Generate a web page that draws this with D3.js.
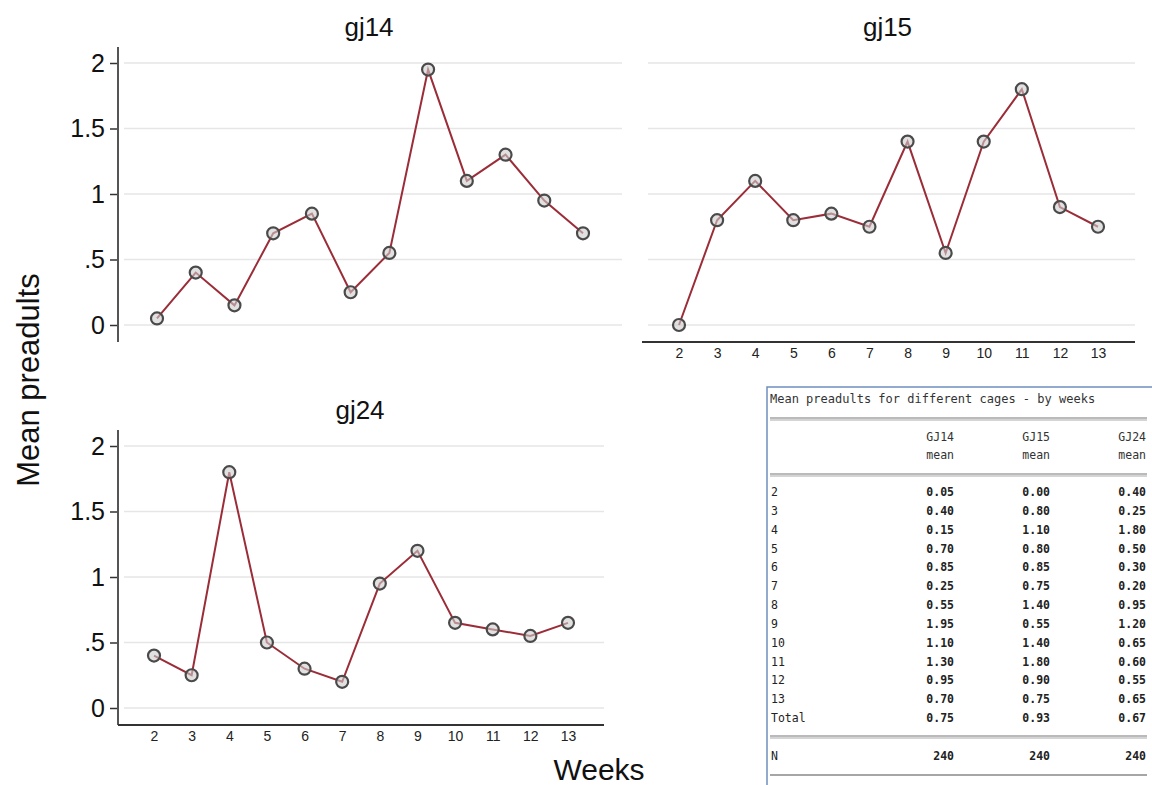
<!DOCTYPE html>
<html>
<head>
<meta charset="utf-8">
<script src="https://cdn.jsdelivr.net/npm/d3@7"></script>
<style>
  body { margin: 0; background: #fff; }
  svg { display: block; }
</style>
</head>
<body>
<svg id="chart" width="1152" height="785"></svg>
<script>
// data
var weeks = [2, 3, 4, 5, 6, 7, 8, 9, 10, 11, 12, 13];
var gj14 = [0.05, 0.40, 0.15, 0.70, 0.85, 0.25, 0.55, 1.95, 1.10, 1.30, 0.95, 0.70];
var gj15 = [0.00, 0.80, 1.10, 0.80, 0.85, 0.75, 1.40, 0.55, 1.40, 1.80, 0.90, 0.75];
var gj24 = [0.40, 0.25, 1.80, 0.50, 0.30, 0.20, 0.95, 1.20, 0.65, 0.60, 0.55, 0.65];
var yTicks = [0, 0.5, 1, 1.5, 2];
var yTickLabels = ["0", ".5", "1", "1.5", "2"];
var totals = [0.75, 0.93, 0.67];
var nObs = [240, 240, 240];
var tableCols = ["GJ14", "GJ15", "GJ24"];

var svg = d3.select("#chart");
var lineColor = "#9b2d38";
var sans = "Liberation Sans, Arial, sans-serif";

// one panel per cage
var panels = [
  { name: "gj14", values: gj14, x0: 118, x1: 622, y0: 325, y1: 63, wk2: 157, wk13: 583, yAxis: true, xAxis: false, axTop: 47, axBottom: 342 },
  { name: "gj15", values: gj15, x0: 642, x1: 1135, y0: 325, y1: 63, wk2: 679, wk13: 1098, yAxis: false, xAxis: true, axBottom: 342 },
  { name: "gj24", values: gj24, x0: 118, x1: 604, y0: 708, y1: 446, wk2: 154, wk13: 568, yAxis: true, xAxis: true, axTop: 430, axBottom: 725 }
];

panels.forEach(function (p) {
  var x = d3.scaleLinear().domain([2, 13]).range([p.wk2, p.wk13]);
  var y = d3.scaleLinear().domain([0, 2]).range([p.y0, p.y1]);
  var g = svg.append("g");

  // grid
  g.selectAll("line.grid")
    .data(yTicks).enter()
    .append("line")
    .attr("x1", p.x0 + 6)
    .attr("x2", p.x1)
    .attr("y1", function (d) { return y(d); })
    .attr("y2", function (d) { return y(d); })
    .attr("stroke", "#e6e6e6")
    .attr("stroke-width", 1.5);

  if (p.yAxis) {
    var ya = d3.axisLeft(y).tickValues(yTicks)
      .tickFormat(function (d, i) { return yTickLabels[i]; })
      .tickSize(8).tickPadding(5);
    var yg = g.append("g").attr("transform", "translate(" + p.x0 + ",0)").call(ya);
    yg.select(".domain").remove();
    yg.selectAll(".tick line").attr("stroke", "#333").attr("stroke-width", 1.5);
    yg.selectAll(".tick text").attr("font-family", sans)
      .attr("font-size", 25).attr("fill", "#111");
    g.append("line")
      .attr("x1", p.x0).attr("x2", p.x0)
      .attr("y1", p.axTop).attr("y2", p.axBottom)
      .attr("stroke", "#555").attr("stroke-width", 2);
  }

  if (p.xAxis) {
    var xa = d3.axisBottom(x).tickValues(weeks).tickFormat(d3.format("d"))
      .tickSize(0).tickPadding(6);
    var xg = g.append("g").attr("transform", "translate(0," + p.axBottom + ")").call(xa);
    xg.select(".domain").remove();
    xg.selectAll(".tick text").attr("font-family", sans)
      .attr("font-size", 14).attr("fill", "#222");
    g.append("line")
      .attr("x1", p.x0).attr("x2", p.x1)
      .attr("y1", p.axBottom).attr("y2", p.axBottom)
      .attr("stroke", "#333").attr("stroke-width", 2);
  }

  // title
  g.append("text")
    .attr("x", (p.wk2 + p.wk13) / 2 - 1)
    .attr("y", p.y1 - 27)
    .attr("text-anchor", "middle")
    .attr("font-family", sans)
    .attr("font-size", 26)
    .attr("fill", "#111")
    .text(p.name);

  var pts = weeks.map(function (w, i) { return [w, p.values[i]]; });

  g.append("path")
    .datum(pts)
    .attr("fill", "none")
    .attr("stroke", lineColor)
    .attr("stroke-width", 2)
    .attr("d", d3.line().x(function (d) { return x(d[0]); }).y(function (d) { return y(d[1]); }));

  g.selectAll("circle")
    .data(pts).enter()
    .append("circle")
    .attr("cx", function (d) { return x(d[0]); })
    .attr("cy", function (d) { return y(d[1]); })
    .attr("r", 6)
    .attr("fill", "rgba(205,205,205,0.6)")
    .attr("stroke", "#4a4a4a")
    .attr("stroke-width", 2.2);
});

// shared axis titles
svg.append("text")
  .attr("transform", "translate(39,380) rotate(-90)")
  .attr("text-anchor", "middle")
  .attr("font-family", sans)
  .attr("font-size", 31)
  .attr("fill", "#111")
  .text("Mean preadults");

svg.append("text")
  .attr("x", 599)
  .attr("y", 780)
  .attr("text-anchor", "middle")
  .attr("font-family", sans)
  .attr("font-size", 30)
  .attr("fill", "#111")
  .text("Weeks");

// the summary table
var tb = svg.append("g");
var mono = "DejaVu Sans Mono, Liberation Mono, monospace";
tb.append("rect").attr("x", 767).attr("y", 387).attr("width", 400).attr("height", 410)
  .attr("fill", "#fff").attr("stroke", "#6f8fbf").attr("stroke-width", 1.5);

tb.append("text").attr("x", 770).attr("y", 403)
  .attr("font-family", mono).attr("font-size", 12).attr("fill", "#333")
  .text("Mean preadults for different cages - by weeks");

function rule(yy) {
  tb.append("line").attr("x1", 770).attr("x2", 1147).attr("y1", yy).attr("y2", yy)
    .attr("stroke", "#777").attr("stroke-width", 1.2);
  tb.append("line").attr("x1", 770).attr("x2", 1147).attr("y1", yy + 2).attr("y2", yy + 2)
    .attr("stroke", "#aaa").attr("stroke-width", 1.2);
}
rule(418);
rule(474);
rule(736);
tb.append("line").attr("x1", 770).attr("x2", 1147).attr("y1", 775).attr("y2", 775)
  .attr("stroke", "#888").attr("stroke-width", 1.5);

var colRight = [954, 1050, 1146];
tableCols.forEach(function (c, j) {
  tb.append("text").attr("x", colRight[j]).attr("y", 441).attr("text-anchor", "end")
    .attr("font-family", mono).attr("font-size", 11.5).attr("fill", "#333").text(c);
  tb.append("text").attr("x", colRight[j]).attr("y", 459).attr("text-anchor", "end")
    .attr("font-family", mono).attr("font-size", 11.5).attr("fill", "#333").text("mean");
});

var rows = weeks.map(function (w, i) { return [String(w), gj14[i], gj15[i], gj24[i]]; });
rows.push(["Total"].concat(totals));
var rowY = d3.scaleLinear().domain([0, rows.length - 1]).range([496, 722]);
var fmt = d3.format(".2f");

rows.forEach(function (r, i) {
  tb.append("text").attr("x", 771).attr("y", rowY(i))
    .attr("font-family", mono).attr("font-size", 11.5).attr("fill", "#222").text(r[0]);
  for (var j = 1; j < 4; j++) {
    tb.append("text").attr("x", colRight[j - 1]).attr("y", rowY(i)).attr("text-anchor", "end")
      .attr("font-family", mono).attr("font-size", 11.5).attr("font-weight", "bold")
      .attr("fill", "#222").text(fmt(r[j]));
  }
});

tb.append("text").attr("x", 771).attr("y", 760)
  .attr("font-family", mono).attr("font-size", 11.5).attr("fill", "#222").text("N");
nObs.forEach(function (n, j) {
  tb.append("text").attr("x", colRight[j]).attr("y", 760).attr("text-anchor", "end")
    .attr("font-family", mono).attr("font-size", 11.5).attr("font-weight", "bold")
    .attr("fill", "#222").text(n);
});
</script>
</body>
</html>
